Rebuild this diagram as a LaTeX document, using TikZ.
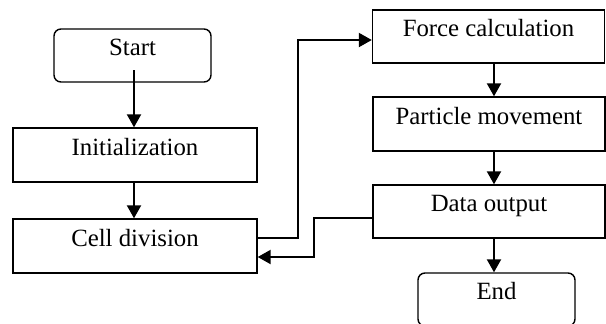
\documentclass[tikz,border=0pt]{standalone}
\usepackage{fontspec}
\setmainfont{Liberation Serif}
\usetikzlibrary{arrows.meta}
\begin{document}
\begin{tikzpicture}[x=0.5pt,y=-0.5pt,
  box/.style={draw=black,line width=0.7pt,inner sep=0pt,text height=9pt,text depth=9pt,
    font=\fontsize{12.4pt}{14pt}\selectfont},
  term/.style={box,rounded corners=3.5pt},
  arr/.style={draw=black,line width=1.05pt,-{Triangle[length=6.5pt,width=7pt]}}]
\useasboundingbox (0,0) rectangle (606,323);
\clip (0,0) rectangle (606,323);
\node[term,minimum width=78.5pt,minimum height=26.5pt] (Start) at (132.5,55.5) {Start};
\node[box,minimum width=122pt,minimum height=27pt] (Init) at (135,155) {Initialization};
\node[box,minimum width=122pt,minimum height=27pt] (Cell) at (135,246) {Cell division};
\node[box,minimum width=116pt,minimum height=26.5pt] (Force) at (488.5,36.5) {Force calculation};
\node[box,minimum width=116pt,minimum height=27pt] (Part) at (489,124) {Particle movement};
\node[box,minimum width=116pt,minimum height=26.5pt] (Data) at (489,211.5) {Data output};
\node[term,minimum width=78.5pt,minimum height=26.5pt] (End) at (496.5,299.5) {End};
\draw[arr] ([shift={(1.5,14.5)}]Start.center) -- ([xshift=-0.5pt]Init.north);
\draw[arr] ([xshift=-0.5pt]Init.south) -- ([xshift=-0.5pt]Cell.north);
\draw[arr] ([yshift=4pt]Cell.east) -- ++(40,0) |- ([yshift=-1.75pt]Force.west);
\draw[arr] ([xshift=2.75pt]Force.south) -- ([xshift=2.5pt]Part.north);
\draw[arr] ([xshift=2.5pt]Part.south) -- ([xshift=2.5pt]Data.north);
\draw[arr] ([xshift=2.5pt]Data.south) -- ([xshift=-1.25pt]End.north);
\draw[arr] ([yshift=-3.25pt]Data.west) -- ++(-58,0) |- ([yshift=-5.5pt]Cell.east);
\end{tikzpicture}
\end{document}
